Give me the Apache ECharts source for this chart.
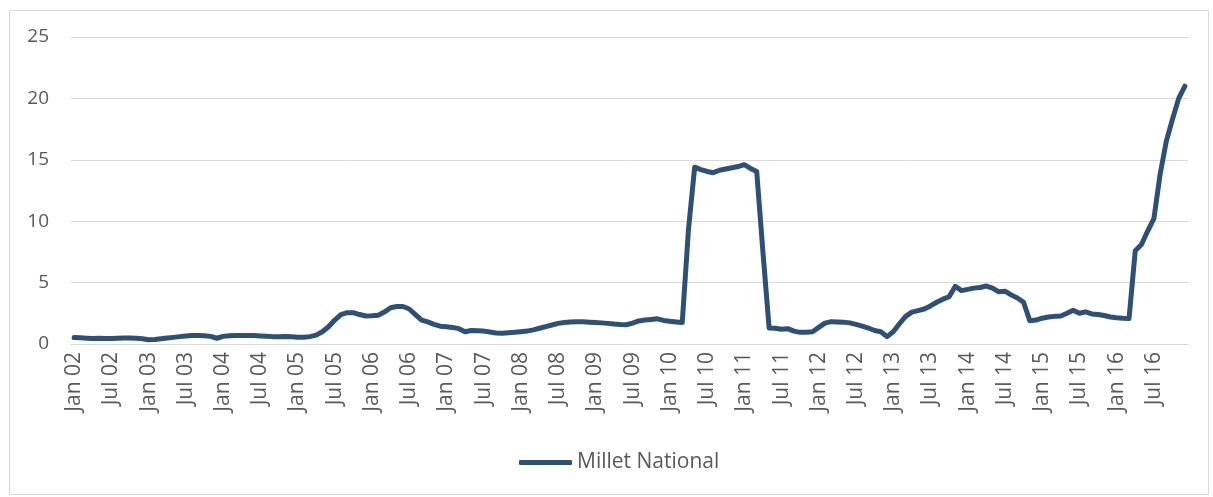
<!DOCTYPE html>
<html>
<head>
<meta charset="utf-8">
<script src="https://cdn.jsdelivr.net/npm/echarts@6/dist/echarts.min.js"></script>
<style>
  html, body { margin: 0; padding: 0; background: #fff; }
  #chart { width: 1213px; height: 497px; }
</style>
</head>
<body>
<div id="chart"></div>
<script>
// monthly prices, Jan 02 .. Dec 16
const v2002 = [0.52, 0.50, 0.47, 0.45, 0.46, 0.45, 0.45, 0.46, 0.48, 0.48, 0.46, 0.42]
const v2003 = [0.34, 0.36, 0.42, 0.48, 0.54, 0.60, 0.66, 0.70, 0.70, 0.68, 0.62, 0.47]
const v2004 = [0.62, 0.68, 0.70, 0.70, 0.70, 0.69, 0.66, 0.64, 0.60, 0.60, 0.62, 0.60]
const v2005 = [0.55, 0.55, 0.60, 0.72, 1.00, 1.40, 1.95, 2.40, 2.55, 2.55, 2.40, 2.28]
const v2006 = [2.30, 2.35, 2.60, 2.95, 3.05, 3.05, 2.85, 2.40, 1.95, 1.80, 1.60, 1.45]
const v2007 = [1.40, 1.35, 1.25, 1.00, 1.10, 1.08, 1.05, 0.98, 0.90, 0.88, 0.92, 0.95]
const v2008 = [1.00, 1.05, 1.15, 1.28, 1.42, 1.55, 1.68, 1.75, 1.80, 1.82, 1.82, 1.78]
const v2009 = [1.75, 1.72, 1.68, 1.62, 1.58, 1.57, 1.70, 1.88, 1.95, 2.00, 2.05, 1.92]
const v2010 = [1.85, 1.80, 1.75, 9.30, 14.40, 14.20, 14.05, 13.95, 14.15, 14.25, 14.35, 14.45]
const v2011 = [14.60, 14.30, 14.05, 7.50, 1.30, 1.28, 1.20, 1.25, 1.05, 0.95, 0.95, 1.00]
const v2012 = [1.35, 1.70, 1.82, 1.80, 1.78, 1.72, 1.60, 1.45, 1.30, 1.10, 1.00, 0.60]
const v2013 = [1.00, 1.65, 2.25, 2.60, 2.72, 2.85, 3.10, 3.40, 3.65, 3.85, 4.70, 4.35]
const v2014 = [4.45, 4.55, 4.60, 4.72, 4.55, 4.25, 4.30, 4.00, 3.75, 3.40, 1.90, 1.95]
const v2015 = [2.10, 2.20, 2.25, 2.28, 2.50, 2.75, 2.50, 2.62, 2.45, 2.40, 2.32, 2.20]
const v2016 = [2.14, 2.10, 2.08, 7.60, 8.10, 9.20, 10.20, 13.80, 16.50, 18.30, 20.00, 21.00]

const years = ['02', '03', '04', '05', '06', '07', '08', '09', '10', '11', '12', '13', '14', '15', '16']
const months = ['Jan', 'Feb', 'Mar', 'Apr', 'May', 'Jun', 'Jul', 'Aug', 'Sep', 'Oct', 'Nov', 'Dec']

const seriesName = 'Millet National'
const yTicks = [0, 5, 10, 15, 20, 25]

const categories = []
years.forEach(y => months.forEach(m => categories.push(m + ' ' + y)))
const values = [].concat(v2002, v2003, v2004, v2005, v2006, v2007, v2008,
  v2009, v2010, v2011, v2012, v2013, v2014, v2015, v2016)

const chart = echarts.init(document.getElementById('chart'))
const textColor = '#595959'
const gridColor = '#d9d9d9'
const font = 'Open Sans'

chart.setOption({
  animation: false,
  graphic: [{
    type: 'rect',
    left: 7,
    top: 8,
    shape: { width: 1199, height: 484 },
    style: { fill: 'none', stroke: gridColor, lineWidth: 1 },
    silent: true
  }],
  grid: { left: 71, right: 25, top: 37, bottom: 153 },
  legend: {
    data: [seriesName],
    left: 514,
    top: 447,
    icon: 'roundRect',
    itemWidth: 53,
    itemHeight: 5,
    itemGap: 6,
    textStyle: { color: textColor, fontFamily: font, fontSize: 21 }
  },
  xAxis: {
    type: 'category',
    data: categories,
    boundaryGap: true,
    axisLine: { lineStyle: { color: gridColor, width: 1 } },
    axisTick: { interval: 5, length: 6, lineStyle: { color: gridColor } },
    axisLabel: {
      interval: 5,
      rotate: 90,
      margin: 8,
      color: textColor,
      fontFamily: font,
      fontSize: 21
    },
    splitLine: { show: false }
  },
  yAxis: {
    type: 'value',
    min: yTicks[0],
    max: yTicks[yTicks.length - 1],
    interval: 5,
    axisLine: { show: false },
    axisTick: { show: false },
    axisLabel: { margin: 22, color: textColor, fontFamily: font, fontSize: 19 },
    splitLine: { lineStyle: { color: gridColor, width: 1 } }
  },
  series: [{
    name: seriesName,
    type: 'line',
    data: values,
    showSymbol: false,
    symbol: 'none',
    smooth: false,
    itemStyle: { color: '#2E5077' },
    lineStyle: { color: '#2E5077', width: 5, cap: 'round', join: 'round' }
  }]
})
</script>
</body>
</html>
